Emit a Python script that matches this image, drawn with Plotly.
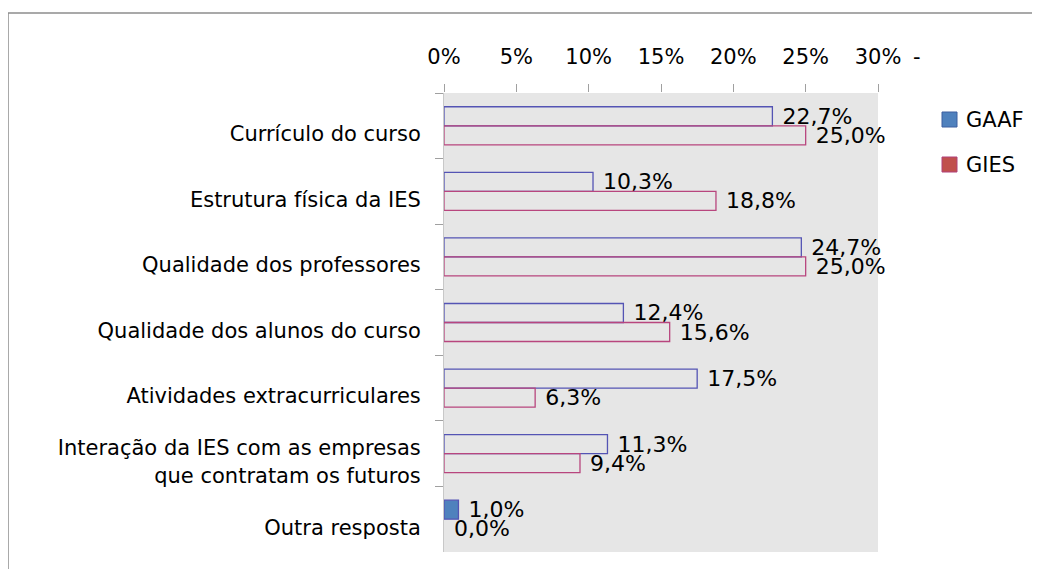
import plotly.graph_objects as go

categories = [
    "Currículo do curso",
    "Estrutura física da IES",
    "Qualidade dos professores",
    "Qualidade dos alunos do curso",
    "Atividades extracurriculares",
    "Interação da IES com as empresas<br>que contratam os futuros",
    "Outra resposta",
]
gaaf = [22.7, 10.3, 24.7, 12.4, 17.5, 11.3, 1.0]
gies = [25.0, 18.8, 25.0, 15.6, 6.3, 9.4, 0.0]
series_names = ["GAAF", "GIES"]
tick_vals = [0, 5, 10, 15, 20, 25, 30]
tick_text = ["0%", "5%", "10%", "15%", "20%", "25%", "30%"]


def fmt(v):
    return "\u00a0" + f"{v:.1f}%".replace(".", ",")


FONT = "DejaVu Sans, sans-serif"
BG = "#e6e6e6"
GAAF_LINE = "#5454b4"
GIES_LINE = "#b8467e"
GAAF_FILL = "#4f81bd"
GIES_FILL = "#c0504d"

# plot area in page pixels (page has an 8px body margin)
OFF = 8
PL, PR, PT, PB = 444, 878, 93, 552
W, H = 1040, 569


def px(sx):
    return (sx - PL) / (PR - PL)


def py(sy):
    return (PB - sy) / (PB - PT)


gaaf_fill = ["rgba(0,0,0,0)"] * (len(gaaf) - 1) + [GAAF_FILL]
gies_line = [GIES_LINE if v > 0 else "rgba(0,0,0,0)" for v in gies]

fig = go.Figure()
fig.add_trace(go.Bar(
    y=categories, x=gaaf, orientation="h", name=series_names[0],
    marker=dict(color=gaaf_fill, line=dict(color=GAAF_LINE, width=1.3)),
    text=[fmt(v) for v in gaaf], textposition="outside", cliponaxis=False,
    constraintext="none",
    textfont=dict(family=FONT, size=22, color="black"),
    showlegend=False, hoverinfo="skip",
))
fig.add_trace(go.Bar(
    y=categories, x=gies, orientation="h", name=series_names[1],
    marker=dict(color="rgba(0,0,0,0)", line=dict(color=gies_line, width=1.3)),
    text=[fmt(v) for v in gies], textposition="outside", cliponaxis=False,
    constraintext="none",
    textfont=dict(family=FONT, size=22, color="black"),
    showlegend=False, hoverinfo="skip",
))

shapes = [
    dict(type="line", xref="paper", yref="paper",
         x0=px(8), x1=px(1060), y0=py(13), y1=py(13),
         line=dict(color="#8c8c8c", width=1.5)),
    dict(type="line", xref="paper", yref="paper",
         x0=px(8), x1=px(8), y0=py(13), y1=py(590),
         line=dict(color="#8c8c8c", width=1.5)),
]
annotations = [
    dict(x=1, y=py(57), xref="paper", yref="paper", xanchor="center",
         yanchor="middle", text="-", showarrow=False, xshift=39,
         font=dict(family=FONT, size=21, color="black")),
]
# manual legend
legend_items = [(series_names[0], GAAF_FILL, "#3c5fa0", 112),
                (series_names[1], GIES_FILL, "#b0407a", 157)]
for name, fill, edge, top in legend_items:
    shapes.append(dict(type="rect", xref="paper", yref="paper",
                       x0=px(942), x1=px(957), y0=py(top + 15), y1=py(top),
                       fillcolor=fill, line=dict(color=edge, width=1)))
    annotations.append(dict(x=px(964), y=py(top + 8), xref="paper", yref="paper",
                            xanchor="left", yanchor="middle", text=name,
                            showarrow=False,
                            font=dict(family=FONT, size=21, color="black")))

fig.update_layout(
    width=W, height=H,
    margin=dict(l=PL - OFF, r=W - (PR - OFF), t=PT - OFF, b=H - (PB - OFF)),
    paper_bgcolor="white", plot_bgcolor=BG,
    barmode="group", bargap=0.42, bargroupgap=0,
    font=dict(family=FONT, size=21, color="black"),
    showlegend=False,
    xaxis=dict(side="top", range=[0, 30], tickvals=tick_vals, ticktext=tick_text,
               showgrid=False, zeroline=False, ticks="outside", ticklen=8,
               tickcolor="#a0a0a0", showline=False, ticklabelstandoff=12,
               tickfont=dict(family=FONT, size=21, color="black"),
               automargin=False),
    yaxis=dict(autorange="reversed", showgrid=False, ticks="outside", ticklen=8,
               tickcolor="#a0a0a0", tickson="boundaries", showline=True,
               linecolor="#c8c8c8", ticklabelstandoff=18, ticklabelshift=-8,
               automargin=False,
               tickfont=dict(family=FONT, size=21, color="black")),
    shapes=shapes,
    annotations=annotations,
)

fig.write_html("out.html")
